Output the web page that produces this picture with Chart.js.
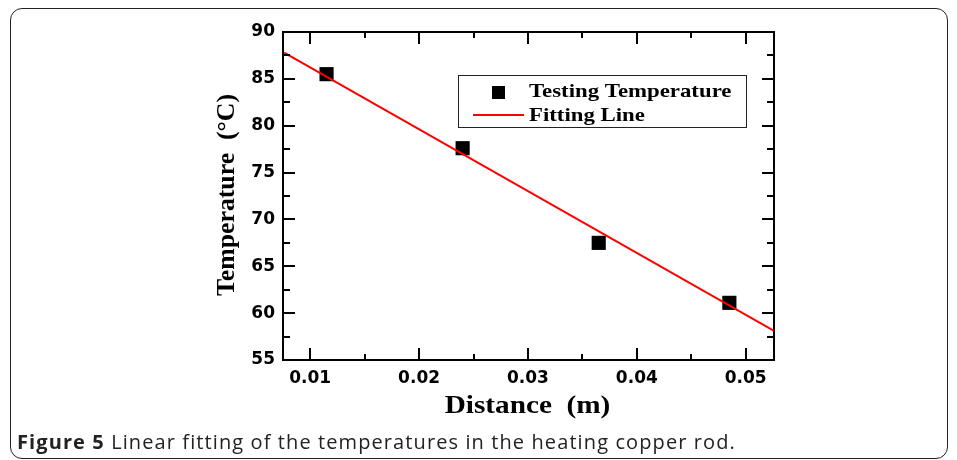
<!DOCTYPE html>
<html>
<head>
<meta charset="utf-8">
<script src="https://cdn.jsdelivr.net/npm/chart.js@4"></script>
<style>
  body { margin: 0; background: #fff; }
  #wrap { position: relative; width: 957px; height: 460px; }
  #frame {
    position: absolute; left: 10px; top: 8px; width: 936px; height: 449px;
    border: 1.5px solid #222; border-radius: 12px;
  }
  #chart { position: absolute; left: 0; top: 0; }
  #caption {
    position: absolute; left: 17px; top: 428px;
    font-family: "Open Sans", sans-serif; font-size: 20px; color: #222;
    letter-spacing: 1.1px; white-space: nowrap;
  }
  #caption b { font-weight: 700; }
</style>
</head>
<body>
<div id="wrap">
  <div id="frame"></div>
  <canvas id="chart" width="957" height="460"></canvas>
  <div id="caption"><b>Figure 5</b> Linear fitting of the temperatures in the heating copper rod.</div>
</div>
<script>
// measured points
const distance = [0.0115, 0.0240, 0.0365, 0.0485];
const temperature = [85.5, 77.6, 67.5, 61.1];

// fitted line, read at both ends of the plot
const fitDistance = [0.0076, 0.0526];
const fitTemperature = [87.8, 58.1];

// axis ticks
const xTicks = [0.01, 0.02, 0.03, 0.04, 0.05];
const xMinorTicks = [0.015, 0.025, 0.035, 0.045];
const yTicks = [55, 60, 65, 70, 75, 80, 85, 90];
const yMinorTicks = [57.5, 62.5, 67.5, 72.5, 77.5, 82.5, 87.5];

const serif = '"Liberation Serif", "Times New Roman", serif';

// draw text stretched along its direction
function drawStretched(ctx, text, x, y, font, stretch, angle) {
    ctx.save();
    ctx.translate(x, y);
    ctx.rotate(angle || 0);
    ctx.scale(stretch, 1);
    ctx.font = font;
    ctx.fillStyle = '#000';
    ctx.textAlign = 'center';
    ctx.textBaseline = 'alphabetic';
    ctx.fillText(text, 0, 0);
    ctx.restore();
}

const framePlugin = {
    id: 'framePlugin',
    afterDraw(chart) {
        const ctx = chart.ctx;
        const a = chart.chartArea;
        const xs = chart.scales.x, ys = chart.scales.y;
        ctx.save();
        ctx.strokeStyle = '#000';
        ctx.lineWidth = 2;
        ctx.strokeRect(a.left, a.top, a.right - a.left, a.bottom - a.top);

        // inward ticks on all four sides
        ctx.beginPath();
        xTicks.forEach(v => {
            const px = Math.round(xs.getPixelForValue(v));
            ctx.moveTo(px, a.bottom); ctx.lineTo(px, a.bottom - 12);
            ctx.moveTo(px, a.top); ctx.lineTo(px, a.top + 12);
        });
        xMinorTicks.forEach(v => {
            const px = Math.round(xs.getPixelForValue(v));
            ctx.moveTo(px, a.bottom); ctx.lineTo(px, a.bottom - 6);
            ctx.moveTo(px, a.top); ctx.lineTo(px, a.top + 6);
        });
        yTicks.forEach(v => {
            const py = Math.round(ys.getPixelForValue(v));
            ctx.moveTo(a.left, py); ctx.lineTo(a.left + 12, py);
            ctx.moveTo(a.right, py); ctx.lineTo(a.right - 12, py);
        });
        yMinorTicks.forEach(v => {
            const py = Math.round(ys.getPixelForValue(v));
            ctx.moveTo(a.left, py); ctx.lineTo(a.left + 7, py);
            ctx.moveTo(a.right, py); ctx.lineTo(a.right - 7, py);
        });
        ctx.stroke();

        // axis titles
        const cx = (a.left + a.right) / 2;
        drawStretched(ctx, 'Distance  (m)', cx - 1, 413, 'bold 25px ' + serif, 1.17);
        const cy = (a.top + a.bottom) / 2;
        drawStretched(ctx, 'Temperature  (\u00B0C)', 234, cy - 1, 'bold 25px ' + serif, 1.03, -Math.PI / 2);

        // legend
        ctx.lineWidth = 1;
        ctx.strokeStyle = '#222';
        ctx.strokeRect(458.5, 75.5, 288, 52);
        ctx.fillStyle = '#000';
        ctx.fillRect(492, 86, 13, 13);
        ctx.strokeStyle = '#ff0000';
        ctx.lineWidth = 2;
        ctx.beginPath();
        ctx.moveTo(473, 115); ctx.lineTo(524, 115);
        ctx.stroke();
        ctx.font = 'bold 19px ' + serif;
        ctx.fillStyle = '#000';
        ctx.textAlign = 'left';
        ctx.save();
        ctx.translate(529, 97);
        ctx.scale(1.2, 1);
        ctx.fillText('Testing Temperature', 0, 0);
        ctx.fillText('Fitting Line', 0, 24 );
        ctx.restore();
        ctx.restore();
    }
};

const tickFont = { family: '"DejaVu Sans", sans-serif', size: 17, weight: 'bold' };

new Chart(document.getElementById('chart'), {
    type: 'scatter',
    data: {
        datasets: [{
            type: 'line',
            label: 'Fitting Line',
            data: fitDistance.map((d, i) => ({ x: d, y: fitTemperature[i] })),
            borderColor: '#ff0000',
            borderWidth: 2,
            pointRadius: 0,
            fill: false,
            order: 0
        }, {
            label: 'Testing Temperature',
            data: distance.map((d, i) => ({ x: d, y: temperature[i] })),
            pointStyle: 'rect',
            pointRadius: 10,
            backgroundColor: '#000',
            borderColor: '#000',
            borderWidth: 0,
            order: 1
        }]
    },
    options: {
        responsive: false,
        animation: false,
        layout: { padding: { left: 205, top: 32, right: 183, bottom: 0 } },
        scales: {
            x: {
                type: 'linear',
                min: 0.0075,
                max: 0.0526,
                afterBuildTicks: s => { s.ticks = xTicks.map(v => ({ value: v })); },
                afterFit: s => { s.height = 100; },
                ticks: {
                    color: '#000', font: tickFont, padding: 8,
                    callback: v => v.toFixed(2)
                },
                grid: { display: false, drawTicks: false },
                border: { display: false }
            },
            y: {
                min: 55,
                max: 90,
                afterBuildTicks: s => { s.ticks = yTicks.map(v => ({ value: v })); },
                afterFit: s => { s.width = 78; },
                ticks: { color: '#000', font: tickFont, padding: 8 },
                grid: { display: false, drawTicks: false },
                border: { display: false }
            }
        },
        plugins: {
            legend: { display: false },
            tooltip: { enabled: false }
        }
    },
    plugins: [framePlugin]
});
</script>
</body>
</html>
